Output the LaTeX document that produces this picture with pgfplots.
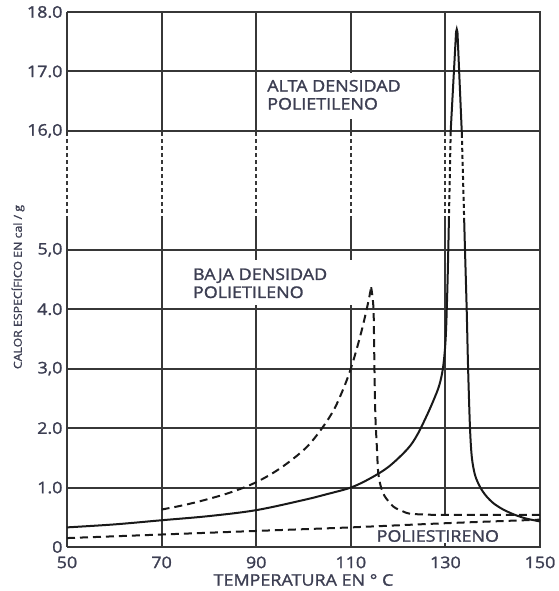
\documentclass[border=0pt]{standalone}
\usepackage{fontspec}
\setmainfont{Open Sans}[FakeStretch=1.12, FakeBold=1.4]
\usepackage{pgfplots}
\pgfplotsset{compat=1.18}

\definecolor{gridc}{RGB}{55,55,55}
\definecolor{txtc}{RGB}{60,62,82}
\definecolor{curvec}{RGB}{25,25,25}

\tikzset{
  grid line/.style={gridc, line width=2pt},
  brk/.style={gridc, line width=2pt, dash pattern=on 4pt off 3pt},
  curve/.style={curvec, line width=2pt},
  dcurve/.style={curvec, line width=2pt, dash pattern=on 8pt off 5pt},
}

\begin{document}
\begin{tikzpicture}
\begin{axis}[
  scale only axis, width=473pt, height=535pt,
  xmin=50, xmax=150, ymin=0, ymax=9,
  axis line style={draw=none},
  major tick length=0pt,
  xtick={50,70,90,110,130,150},
  xticklabels={50,70,90,110,130,150},
  ytick={0,1,2,3,4,5,7,8,9},
  yticklabels={0,1.0,2.0,{3,0},4.0,{5,0},{16,0},17.0,18.0},
  tick label style={font=\fontsize{16}{16}\selectfont, text=txtc},
  xticklabel style={yshift=-6pt},
  yticklabel style={xshift=-1pt},
  xlabel={TEMPERATURA EN ° C},
  xlabel style={font=\fontsize{16}{16}\selectfont, text=txtc, yshift=1pt},
  clip=false,
]
% horizontal grid
\pgfplotsinvokeforeach{1,2,3,4,5,7,8}{
  \draw[grid line] (axis cs:50,#1) -- (axis cs:150,#1);
}
% vertical grid with the broken part dashed
\pgfplotsinvokeforeach{50,70,90,110}{
  \draw[grid line] (axis cs:#1,0) -- (axis cs:#1,5.5);
  \draw[brk] (axis cs:#1,5.5) -- (axis cs:#1,6.95);
  \draw[grid line] (axis cs:#1,6.95) -- (axis cs:#1,9);
}
\draw[grid line] (axis cs:130,0.54) -- (axis cs:130,5.5);
\draw[brk] (axis cs:130,5.5) -- (axis cs:130,6.95);
\draw[grid line] (axis cs:130,6.95) -- (axis cs:130,9);
\draw[grid line] (axis cs:130,0) -- (axis cs:130,0.07);
% frame
\draw[grid line] (axis cs:50,0) -- (axis cs:150,0) -- (axis cs:150,9) -- (axis cs:50,9);

% label boxes
\fill[white] (axis cs:91.3,7.2) rectangle (axis cs:121,7.98);
\fill[white] (axis cs:75.8,4.07) rectangle (axis cs:112,4.83);

% poliestireno
\addplot[dcurve, smooth] coordinates {(50,0.15) (70,0.21) (90,0.27) (110,0.33) (130,0.40) (150,0.46)};

% baja densidad polietileno
\addplot[dcurve, smooth, tension=0.6] coordinates {
(70,0.63) (75,0.71) (80,0.81) (85,0.93) (90,1.09) (95,1.32) (100,1.63) (103,1.9)
(106,2.25) (108,2.58) (110,3.0) (112,3.55) (113.5,4.05) (114.3,4.37)};
\addplot[dcurve, smooth, tension=0.5] coordinates {
(114.3,4.37) (114.8,4.0) (115.0,3.0) (115.2,2.2) (115.5,1.7) (115.8,1.25) (116.4,1.0)
(117.2,0.85) (119,0.68) (121,0.6) (122.5,0.56) (126,0.545) (130,0.54) (150,0.54)};

% alta densidad polietileno
\addplot[curve, smooth, tension=0.55] coordinates {
(50,0.33) (60,0.38) (70,0.45) (80,0.52) (90,0.62) (100,0.79) (105,0.89) (110,1.0)
(114,1.15) (118,1.35) (122,1.65) (124,1.88) (126,2.2) (127.5,2.47) (128.7,2.72)
(129.5,3.02) (130.05,3.5) (130.4,4.3) (130.61,5.0) (130.74,5.5)};
\addplot[curvec, line width=2pt, dash pattern=on 4pt off 3pt] coordinates {(130.74,5.5) (131.11,6.95)};
\addplot[curve] coordinates {(131.11,6.95) (131.12,7) (132.25,8.66) (132.4,8.71) (132.55,8.66) (133.45,7) (133.47,6.95)};
\addplot[curvec, line width=2pt, dash pattern=on 4pt off 3pt] coordinates {(133.47,6.95) (133.97,5.5)};
\addplot[curve, smooth, tension=0.5] coordinates {
(133.97,5.5) (134.14,5.0) (134.5,4.0) (134.8,3.0) (135.2,2.0) (135.6,1.5) (136.3,1.2)
(137.4,1.0) (138.6,0.86) (140.1,0.74) (142,0.64) (144.4,0.55) (147,0.48) (150,0.43)};

% texts
\node[anchor=north west, inner sep=0pt, align=left, text=txtc,
  font=\fontsize{16}{18}\selectfont] at (axis cs:92.3,7.86) {ALTA DENSIDAD\\POLIETILENO};
\node[anchor=north west, inner sep=0pt, align=left, text=txtc,
  font=\fontsize{16}{18}\selectfont] at (axis cs:76.6,4.69) {BAJA DENSIDAD\\POLIETILENO};
\node[inner sep=0pt, text=txtc, font=\fontsize{16}{16}\selectfont] at (axis cs:128.4,0.185) {POLIESTIRENO};
\node[rotate=90, inner sep=0pt, text=txtc, font=\fontsize{11}{11}\selectfont]
  at (axis description cs:-0.1036,0.486) {CALOR ESPECÍFICO EN cal / g};
\end{axis}
\path (current axis.south west) ++(-67pt,-44pt) (current axis.north east) ++(14pt,12pt);
\end{tikzpicture}
\end{document}
